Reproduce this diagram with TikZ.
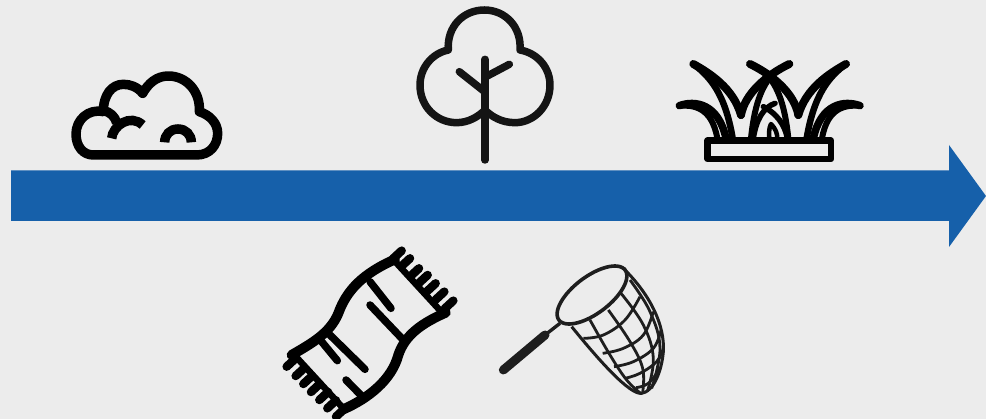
\documentclass[tikz,border=0pt]{standalone}
\begin{document}
\begin{tikzpicture}[x=1pt,y=-1pt,
  zoomed/.style={x=0.33333pt,y=-0.33333pt},
  ink/.style={draw=black,line cap=round,line join=round,fill=none},
  sm/.style={smooth,tension=0.65}]
\definecolor{bgc}{HTML}{ECECEC}
\definecolor{arrowblue}{HTML}{1660AA}
\fill[bgc] (0,0) rectangle (986,419);
\useasboundingbox (0,0) rectangle (986,419);
% arrow
\fill[arrowblue] (11,170.5) -- (949,170.5) -- (949,145) -- (986,196) -- (949,247) -- (949,221) -- (11,221) -- cycle;
% cloud
\begin{scope}[shift={(50,50)},zoomed]
\draw[ink,line width=9.5pt] (130,315) -- (440,315)
  .. controls (480,315) and (503,285) .. (503,250)
  .. controls (503,220) and (480,195) .. (448,185)
  .. controls (452,125) and (410,78) .. (355,78)
  .. controls (320,78) and (295,100) .. (278,130)
  .. controls (262,110) and (240,103) .. (220,103)
  .. controls (185,103) and (160,135) .. (160,185)
  .. controls (115,175) and (78,210) .. (78,252)
  .. controls (78,290) and (100,315) .. (130,315);
\draw[draw=black,line width=9.5pt,line join=round] (160,182) .. controls (180,185) and (195,200) .. (200,218);
\draw[draw=black,line width=9.5pt] (185,265) .. controls (188,228) and (240,190) .. (278,225);
\draw[draw=black,line width=9.5pt] (344,277) .. controls (344,255) and (360,237) .. (384,237) .. controls (408,237) and (424,255) .. (424,277);
\end{scope}
% tree
\begin{scope}[shift={(400,0)},zoomed]
\draw[draw=black!92,line width=7.5pt,line join=round,line cap=round]
  (145,150) .. controls (140,80) and (190,30) .. (253,30)
  .. controls (315,30) and (365,80) .. (360,150)
  .. controls (415,160) and (450,205) .. (450,255)
  .. controls (450,320) and (400,368) .. (345,368)
  .. controls (305,368) and (275,350) .. (255,330)
  .. controls (235,350) and (205,368) .. (170,368)
  .. controls (110,368) and (60,320) .. (60,255)
  .. controls (60,205) and (95,160) .. (145,150) -- cycle;
\draw[draw=black!92,line width=7.5pt,line cap=round] (255,178) -- (255,480);
\draw[draw=black!92,line width=7.5pt,line cap=round] (178,215) -- (250,272);
\draw[draw=black!92,line width=7.5pt,line cap=round] (328,193) -- (258,230);
\end{scope}
% grass
\begin{scope}[shift={(670,50)},zoomed]
\draw[ink,line width=6.5pt] (113,272) rectangle (483,327);
\foreach \sx/\off in {1/0,-1/598}{
\begin{scope}[xshift=\off*0.33333pt,x=\sx*0.33333pt]
\draw[ink,line width=7.5pt] (28,167) .. controls (75,150) and (145,160) .. (168,265);
\draw[ink,line width=6pt] (28,167) .. controls (70,165) and (125,170) .. (142,265);
\draw[ink,line width=8pt] (70,42) .. controls (120,70) and (190,115) .. (213,195);
\draw[ink,line width=6.5pt] (70,42) .. controls (120,80) and (165,130) .. (188,265);
\draw[ink,line width=8pt] (213,195) .. controls (225,130) and (290,75) .. (358,42);
\draw[ink,line width=6pt] (318,62) .. controls (280,100) and (255,150) .. (243,265);
\end{scope}}
\draw[ink,line width=5.5pt] (315,160) .. controls (280,172) and (258,210) .. (250,265);
\draw[ink,line width=5.5pt] (280,170) .. controls (320,190) and (345,225) .. (352,265);
\draw[ink,line width=4.5pt] (298,265) .. controls (296,245) and (298,232) .. (303,222) .. controls (316,235) and (322,250) .. (322,265);
\end{scope}
% towel
\begin{scope}[shift={(275,240)},zoomed]
\draw[ink,line width=10pt] (50,345) .. controls (110,310) and (165,280) .. (190,220)
  .. controls (215,150) and (265,100) .. (360,58);
\draw[ink,line width=10pt] (205,508) .. controls (280,475) and (350,420) .. (370,345)
  .. controls (390,285) and (440,250) .. (512,218);
\draw[ink,line width=6.5pt] (358,62) -- (505,222);
\draw[ink,line width=6.5pt] (58,345) -- (205,505);
\foreach \ax/\ay in {380/32,405/55,432/85,458/105,482/130,508/155,535/182}
  \draw[ink,line width=8.5pt] (\ax,\ay) -- ++(-26,24);
\foreach \ax/\ay in {35/380,62/408,85/432,108/456,133/480,157/505,183/530}
  \draw[ink,line width=8.5pt] (\ax,\ay) -- ++(26,-24);
\foreach \ax/\ay/\bx/\by in {285/125/348/205,285/195/385/300,140/305/187/362,165/285/270/388,213/420/262/470}
  \draw[ink,line width=7.5pt] (\ax,\ay) -- (\bx,\by);
\end{scope}
% net
\begin{scope}[shift={(490,255)},zoomed]
\definecolor{netc}{HTML}{1E1E1E}
\draw[draw=netc,line width=3.6pt] plot[domain=0:360,samples=72,smooth cycle,variable=\t]
  ({306+124*0.8*cos(\t)+55*0.605*sin(\t)},{120-124*0.605*cos(\t)+55*0.8*sin(\t)});
\draw[draw=netc,line width=9pt,line cap=round] (40,345) -- (165,240);
\draw[draw=netc,line width=3.4pt] (165,240) -- (210,205);
\draw[draw=netc,line width=3pt,line join=round] (405,45) .. controls (480,120) and (525,210) .. (520,290) .. controls (515,350) and (490,410) .. (455,415) .. controls (420,420) and (330,320) .. (245,215);
\foreach \pts in {
  {(300,195) (360,300) (410,375) (452,415)},
  {(355,165) (420,260) (458,340) (458,412)},
  {(393,115) (460,210) (490,310) (472,410)},
  {(420,75) (480,170) (510,280) (485,400)},
  {(280,250) (340,240) (405,195) (450,125)},
  {(338,295) (400,280) (460,240) (490,170)},
  {(372,335) (430,320) (490,280) (513,225)},
  {(405,370) (450,355) (500,320) (520,280)},
  {(438,398) (475,385) (510,340)}}
  \draw[draw=netc,line width=2.8pt] plot[sm] coordinates \pts;
\end{scope}
\end{tikzpicture}
\end{document}
